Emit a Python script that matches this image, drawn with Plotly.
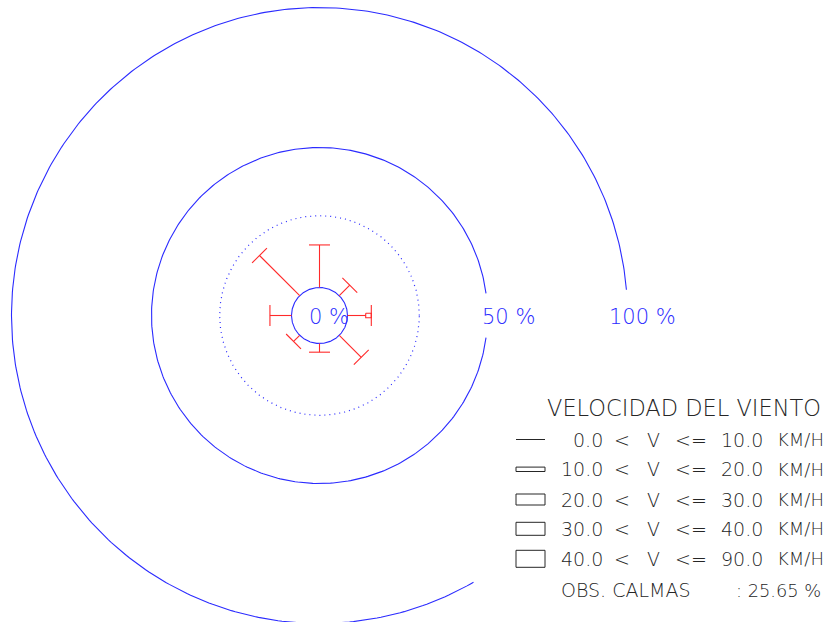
import numpy as np
import plotly.graph_objects as go

# ---- page geometry (pixels) ----
W, H = 826, 622
CX, CY = 319.5, 315.5      # centre of the rose on the page
R0 = 28.0                  # radius of the 0 % circle
K = 2.8                    # pixels per percent of frequency

# ---- data ----
directions = ["N", "NE", "E", "SE", "S", "SW", "W", "NW"]
bearings = [0, 45, 90, 135, 180, 225, 270, 315]
freq_0_10 = [15.2, 5.3, 6.5, 11.1, 3.1, 3.1, 7.7, 20.3]    # % of observations, 0-10 km/h
freq_10_20 = [0.0, 0.0, 2.0, 0.0, 0.0, 0.0, 0.0, 0.0]      # % of observations, 10-20 km/h
calms_pct = 25.65
ring_pcts = [0, 50, 100]
ring_labels = ["0 %", "50 %", "100 %"]

legend_title = "VELOCIDAD DEL VIENTO"
speed_low = ["0.0", "10.0", "20.0", "30.0", "40.0"]
speed_high = ["10.0", "20.0", "30.0", "40.0", "90.0"]
speed_unit = "KM/H"
calms_label = "OBS. CALMAS"

# ---- styles ----
BLUE = "#2b2bff"
RED = "#ff2a2a"
GREY = "#262626"
FONT = "DejaVu Sans"
band_half_width = [0.0, 2.2, 5.5, 6.5, 8.5]   # half thickness of each speed band (px)
TICK_HALF = 10.5


def page(x, y):
    """page pixel -> axis coordinates (y up, origin at the rose centre)"""
    return x - CX, CY - y


def radius(pct):
    return R0 + pct * K


def arc(pct, a0, a1, n=400):
    t = np.radians(np.linspace(a0, a1, n))
    r = radius(pct)
    return r * np.cos(t), r * np.sin(t)


fig = go.Figure()

# reference rings
x, y = arc(ring_pcts[0], 0, 360)
fig.add_trace(go.Scatter(x=x, y=y, mode="lines", line=dict(color=BLUE, width=1.1), hoverinfo="skip"))
x, y = arc(ring_pcts[1], 7.6, 352.4)
fig.add_trace(go.Scatter(x=x, y=y, mode="lines", line=dict(color=BLUE, width=1.1), hoverinfo="skip"))
x, y = arc(ring_pcts[2], 4.8, 300)
fig.add_trace(go.Scatter(x=x, y=y, mode="lines", line=dict(color=BLUE, width=1.1), hoverinfo="skip"))
# calms ring
x, y = arc(calms_pct, 0, 360, 800)
fig.add_trace(go.Scatter(x=x, y=y, mode="lines",
                         line=dict(color=BLUE, width=1.2, dash="1px,4px"), hoverinfo="skip"))

# wind rays
rx, ry = [], []
for b, f1, f2 in zip(bearings, freq_0_10, freq_10_20):
    a = np.radians(90 - b)
    d = np.array([np.cos(a), np.sin(a)])
    n = np.array([-np.sin(a), np.cos(a)])
    u0, u1 = radius(0), radius(f1)
    p0, p1 = u0 * d, u1 * d
    rx += [p0[0], p1[0], None]
    ry += [p0[1], p1[1], None]
    u_end = u1
    if f2 > 0:
        u2 = u1 + f2 * K
        hw = band_half_width[1]
        corners = [u1 * d + hw * n, u2 * d + hw * n, u2 * d - hw * n, u1 * d - hw * n, u1 * d + hw * n]
        rx += [c[0] for c in corners] + [None]
        ry += [c[1] for c in corners] + [None]
        u_end = u2
    e = u_end * d
    t0, t1 = e + TICK_HALF * n, e - TICK_HALF * n
    rx += [t0[0], t1[0], None]
    ry += [t0[1], t1[1], None]
fig.add_trace(go.Scatter(x=rx, y=ry, mode="lines", line=dict(color=RED, width=1.1), hoverinfo="skip"))

annotations = []


def text(s, px_x, px_y, size, color, anchor="left"):
    ax, ay = page(px_x, px_y)
    annotations.append(dict(x=ax, y=ay, xref="x", yref="y", text=s, showarrow=False,
                            xanchor=anchor, yanchor="middle",
                            font=dict(family=FONT, size=size, color=color, weight=200)))


# ring labels
text(ring_labels[0], 307, 317, 21, BLUE)
text(ring_labels[1], 480, 317, 21, BLUE)
text(ring_labels[2], 607, 317, 21, BLUE)

# legend
text(legend_title, 545, 408, 22.5, GREY)
shapes = []
row_y = [439.5, 469.3, 499.5, 528.8, 558.8]
for i, (lo, hi) in enumerate(zip(speed_low, speed_high)):
    yy = row_y[i]
    hw = band_half_width[i]
    if hw == 0:
        x0, y0 = page(516, yy)
        x1, y1 = page(545, yy)
        shapes.append(dict(type="line", x0=x0, y0=y0, x1=x1, y1=y1, xref="x", yref="y",
                           line=dict(color=GREY, width=1)))
    else:
        x0, y0 = page(516, yy - hw)
        x1, y1 = page(545, yy + hw)
        shapes.append(dict(type="rect", x0=x0, y0=y0, x1=x1, y1=y1, xref="x", yref="y",
                           line=dict(color=GREY, width=1), fillcolor="rgba(0,0,0,0)"))
    text(lo, 605, yy, 19, GREY, "right")
    text("&lt;", 622, yy, 19, GREY, "center")
    text("V", 653, yy, 19, GREY, "center")
    text("&lt;=", 691, yy, 19, GREY, "center")
    text(hi, 765, yy, 19, GREY, "right")
    text(speed_unit, 775, yy, 18, GREY, "left")

text(calms_label, 559, 590, 19, GREY)
text(f": {calms_pct:.2f} %", 734, 590, 17.8, GREY)

fig.update_layout(
    width=W, height=H, autosize=False,
    margin=dict(l=0, r=0, t=0, b=0, pad=0),
    paper_bgcolor="white", plot_bgcolor="white",
    showlegend=False,
    xaxis=dict(range=[-CX, W - CX], visible=False, fixedrange=True),
    yaxis=dict(range=[-(H - CY), CY], visible=False, fixedrange=True),
    shapes=shapes, annotations=annotations,
)

fig.write_html("out.html", config={"displayModeBar": False})
